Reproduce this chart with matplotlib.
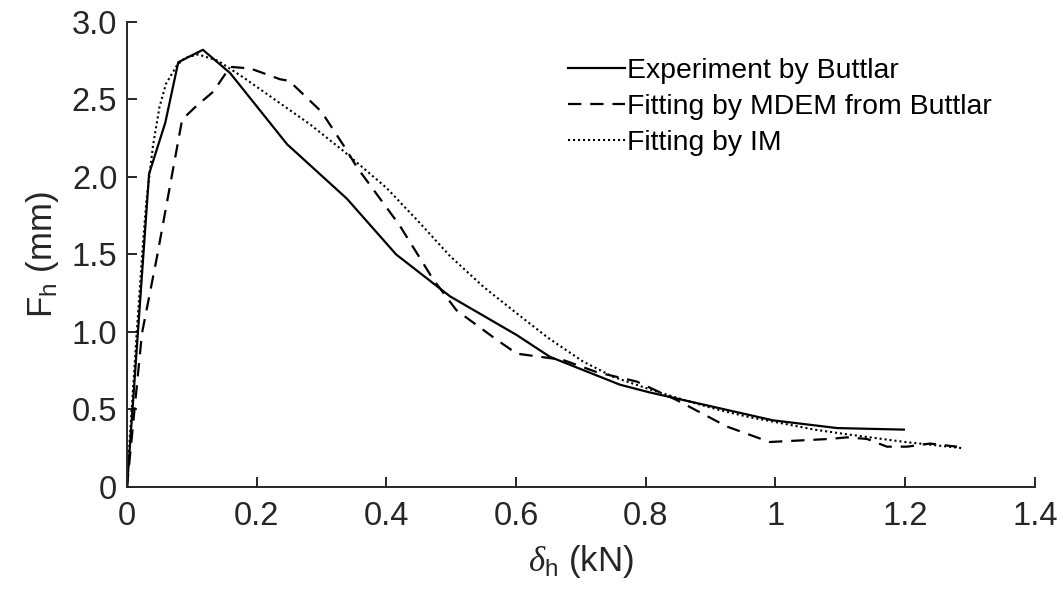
import matplotlib
matplotlib.use("Agg")
import matplotlib.pyplot as plt

plt.rcParams["font.family"] = ["Liberation Sans", "DejaVu Sans"]
plt.rcParams["mathtext.fontset"] = "custom"
plt.rcParams["mathtext.rm"] = "Liberation Sans"
plt.rcParams["mathtext.it"] = "Liberation Serif:italic"

# --- Data ------------------------------------------------------------------
exp_x = [0.0, 0.034, 0.059, 0.079, 0.117, 0.159, 0.247, 0.339, 0.415, 0.498,
         0.601, 0.652, 0.760, 0.806, 0.996, 1.095, 1.198]
exp_y = [0.0, 2.02, 2.35, 2.74, 2.82, 2.67, 2.21, 1.86, 1.50, 1.23,
         0.98, 0.84, 0.66, 0.61, 0.43, 0.38, 0.37]

mdem_x = [0.0, 0.002, 0.023, 0.046, 0.085, 0.105, 0.133, 0.159, 0.19, 0.236,
          0.25, 0.30, 0.336, 0.355, 0.42, 0.472, 0.508, 0.57, 0.601, 0.672,
          0.725, 0.786, 0.848, 0.925, 0.991, 1.084, 1.11, 1.141, 1.172, 1.203,
          1.238, 1.28]
mdem_y = [0.0, 0.09, 0.99, 1.48, 2.37, 2.45, 2.55, 2.71, 2.70, 2.63,
          2.62, 2.42, 2.19, 2.06, 1.69, 1.34, 1.14, 0.95, 0.86, 0.82,
          0.74, 0.68, 0.56, 0.39, 0.29, 0.31, 0.32, 0.31, 0.26, 0.26,
          0.28, 0.26]

im_x = [0.0, 0.004, 0.008, 0.015, 0.02, 0.025, 0.03, 0.04, 0.05, 0.06,
        0.077, 0.09, 0.11, 0.14, 0.18, 0.231, 0.282, 0.333, 0.4, 0.45,
        0.498, 0.55, 0.601, 0.65, 0.703, 0.75, 0.806, 0.86, 0.91, 0.96,
        1.011, 1.06, 1.11, 1.2, 1.289]
im_y = [0.0, 0.3, 0.55, 1.0, 1.3, 1.6, 1.85, 2.2, 2.45, 2.6,
        2.72, 2.77, 2.79, 2.75, 2.64, 2.49, 2.34, 2.17, 1.93, 1.71,
        1.49, 1.29, 1.12, 0.96, 0.81, 0.71, 0.63, 0.56, 0.50, 0.45,
        0.41, 0.37, 0.34, 0.29, 0.25]

x_ticks = [0, 0.2, 0.4, 0.6, 0.8, 1.0, 1.2, 1.4]
x_labels = ["0", "0.2", "0.4", "0.6", "0.8", "1", "1.2", "1.4"]
y_ticks = [0, 0.5, 1.0, 1.5, 2.0, 2.5, 3.0]
y_labels = ["0", "0.5", "1.0", "1.5", "2.0", "2.5", "3.0"]

# --- Plot ------------------------------------------------------------------
fig = plt.figure(figsize=(10.63, 5.97), dpi=100)
ax = fig.add_axes([0.1195, 0.1843, 0.854, 0.779])

ax.plot(exp_x, exp_y, color="black", lw=1.6, ls="-", label="Experiment by Buttlar")
ax.plot(mdem_x, mdem_y, color="black", lw=1.6, ls=(0, (6, 4)),
        label="Fitting by MDEM from Buttlar")
ax.plot(im_x, im_y, color="black", lw=1.5, ls=(0, (1, 1.4)), label="Fitting by IM")

ax.set_xlim(0, 1.4)
ax.set_ylim(0, 3.0)
ax.set_xticks(x_ticks, x_labels)
ax.set_yticks(y_ticks, y_labels)

for side in ("top", "right"):
    ax.spines[side].set_visible(False)
for side in ("left", "bottom"):
    ax.spines[side].set_color("#262626")
    ax.spines[side].set_linewidth(1.4)
ax.tick_params(direction="in", length=7, width=1.4, color="#262626",
               labelsize=23.5, labelcolor="#262626")
ax.tick_params(axis="x", pad=10)
ax.tick_params(axis="y", pad=7)

ax.set_xlabel(r"$\mathit{\delta}_\mathrm{h}$ (kN)", fontsize=25, color="#262626",
              labelpad=8)
ax.set_ylabel(r"F$_\mathrm{h}$ (mm)", fontsize=25, color="#262626", labelpad=8)

ax.legend(loc="upper left", bbox_to_anchor=(0.4857, 0.9226), frameon=False,
          fontsize=20.4, handlelength=2.0, handletextpad=0.07, labelspacing=0.35,
          borderaxespad=0, borderpad=0)

fig.savefig("out.png", dpi=100)
